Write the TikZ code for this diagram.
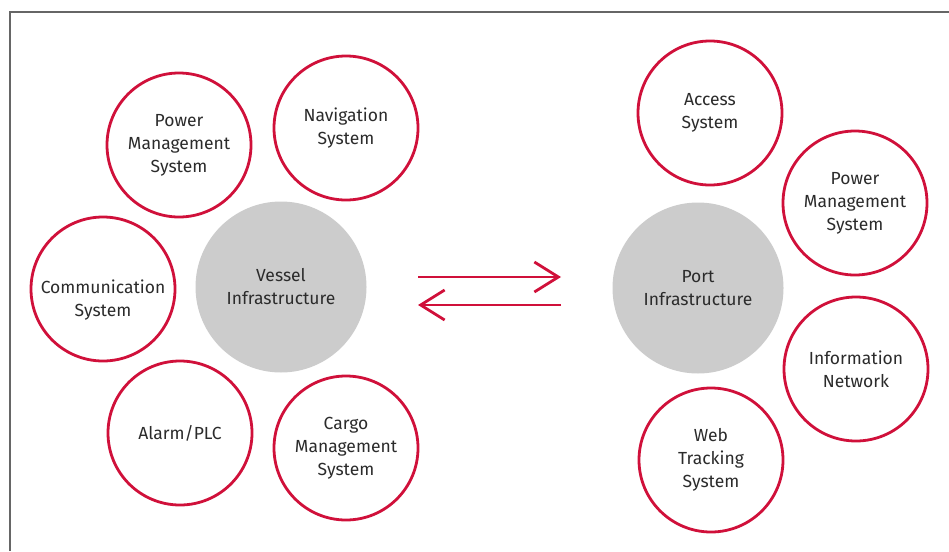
\documentclass[tikz,border=0pt]{standalone}
\usepackage{fontspec}
\setmainfont{Fira Sans}
\usetikzlibrary{arrows.meta}
\definecolor{sysred}{HTML}{D0103A}
\definecolor{hubgray}{HTML}{CCCCCC}
\definecolor{txt}{HTML}{2B2B2B}
\definecolor{frame}{HTML}{666666}
\begin{document}
\begin{tikzpicture}[x=1pt,y=-1pt,
  sys/.style={circle,draw=sysred,line width=2.8pt,fill=white,minimum size=144pt,inner sep=0pt,align=center,text=txt,font=\fontsize{17.5}{23}\selectfont},
  hub/.style={circle,fill=hubgray,minimum size=171pt,inner sep=0pt,align=center,text=txt,font=\fontsize{17.5}{23}\selectfont},
  flow/.style={draw=sysred,line width=2.8pt,-{Straight Barb[length=24pt,width=30pt,line width=2.8pt]}}]
\useasboundingbox (0,0) rectangle (949,551);
\draw[frame,line width=2pt] (10,551) -- (10,12) -- (949,12);
% left side
\node[hub] (vessel) at (281,287) {Vessel\\Infrastructure};
\node[sys] (pmsL) at (179,145) {Power\\Management\\System};
\node[sys] (nav) at (346,128) {Navigation\\System};
\node[sys] (comm) at (103,289) {};
\node[text=txt,font=\fontsize{17.5}{23}\selectfont,align=center] (commtxt) at ([yshift=-11pt]comm.center) {Communication\\System};
\node[sys] (alarm) at (180,433) {Alarm/PLC};
\node[sys] (cargo) at (346,448) {Cargo\\Management\\System};
% right side
\node[hub] (port) at (698,288) {Port\\Infrastructure};
\node[sys] (access) at (710,113) {Access\\System};
\node[sys] (pmsR) at (855,203) {Power\\Management\\System};
\node[sys] (info) at (856,369) {Information\\Network};
\node[sys] (web) at (711,460) {Web\\Tracking\\System};
% arrows
\coordinate (a1s) at (418,277);
\coordinate (a1e) at (561,277);
\coordinate (a2s) at (561,305);
\coordinate (a2e) at (418,305);
\draw[flow] (a1s) -- (a1e);
\draw[flow] (a2s) -- (a2e);
\end{tikzpicture}
\end{document}
